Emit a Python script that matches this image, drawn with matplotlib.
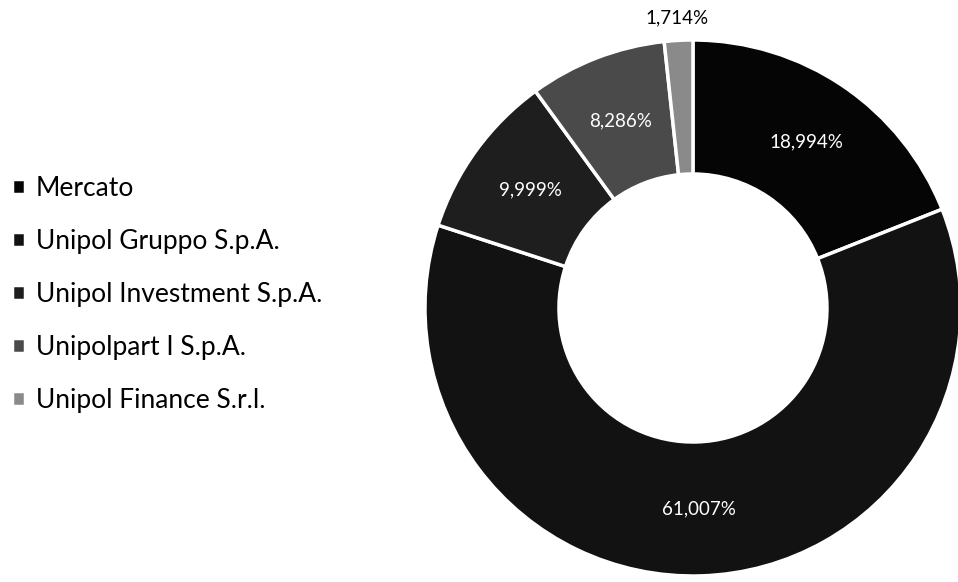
import numpy as np
import matplotlib.pyplot as plt

# Shareholder structure (percent), clockwise from the top
labels = ['Mercato', 'Unipol Gruppo S.p.A.', 'Unipol Investment S.p.A.',
          'Unipolpart I S.p.A.', 'Unipol Finance S.r.l.']
shares = [18.994, 61.007, 9.999, 8.286, 1.714]
colors = ['#050505', '#121212', '#1e1e1e', '#4a4a4a', '#8a8a8a']

plt.rcParams['font.family'] = ['Lato', 'DejaVu Sans']

fig = plt.figure(figsize=(9.58, 5.82), dpi=100)
ax = fig.add_axes([0.4436, 0.0103, 0.5595, 0.921])

wedges, _ = ax.pie(shares, colors=colors, startangle=90, counterclock=False,
                   radius=1.0,
                   wedgeprops=dict(width=0.5, edgecolor='white', linewidth=2.5))
ax.set_xlim(-1, 1)
ax.set_ylim(-1, 1)
ax.set_aspect('equal')
ax.axis('off')

# percentage labels with decimal comma
for w, v in zip(wedges, shares):
    mid = np.deg2rad((w.theta1 + w.theta2) / 2)
    txt = f"{v:.3f}".replace('.', ',') + '%'
    if v < 5:
        r, col = 1.085, 'black'
    else:
        r, col = 0.75, 'white'
    ax.text(r * np.cos(mid), r * np.sin(mid), txt, ha='center', va='center',
            color=col, fontsize=13.5)

fig.legend(wedges, labels, loc='upper left', bbox_to_anchor=(-0.012, 0.738),
           frameon=False, handlelength=0.5, handleheight=0.5,
           handletextpad=0.4, labelspacing=1.06, prop=dict(size=19))

fig.savefig('out.png', dpi=100, facecolor='white')
